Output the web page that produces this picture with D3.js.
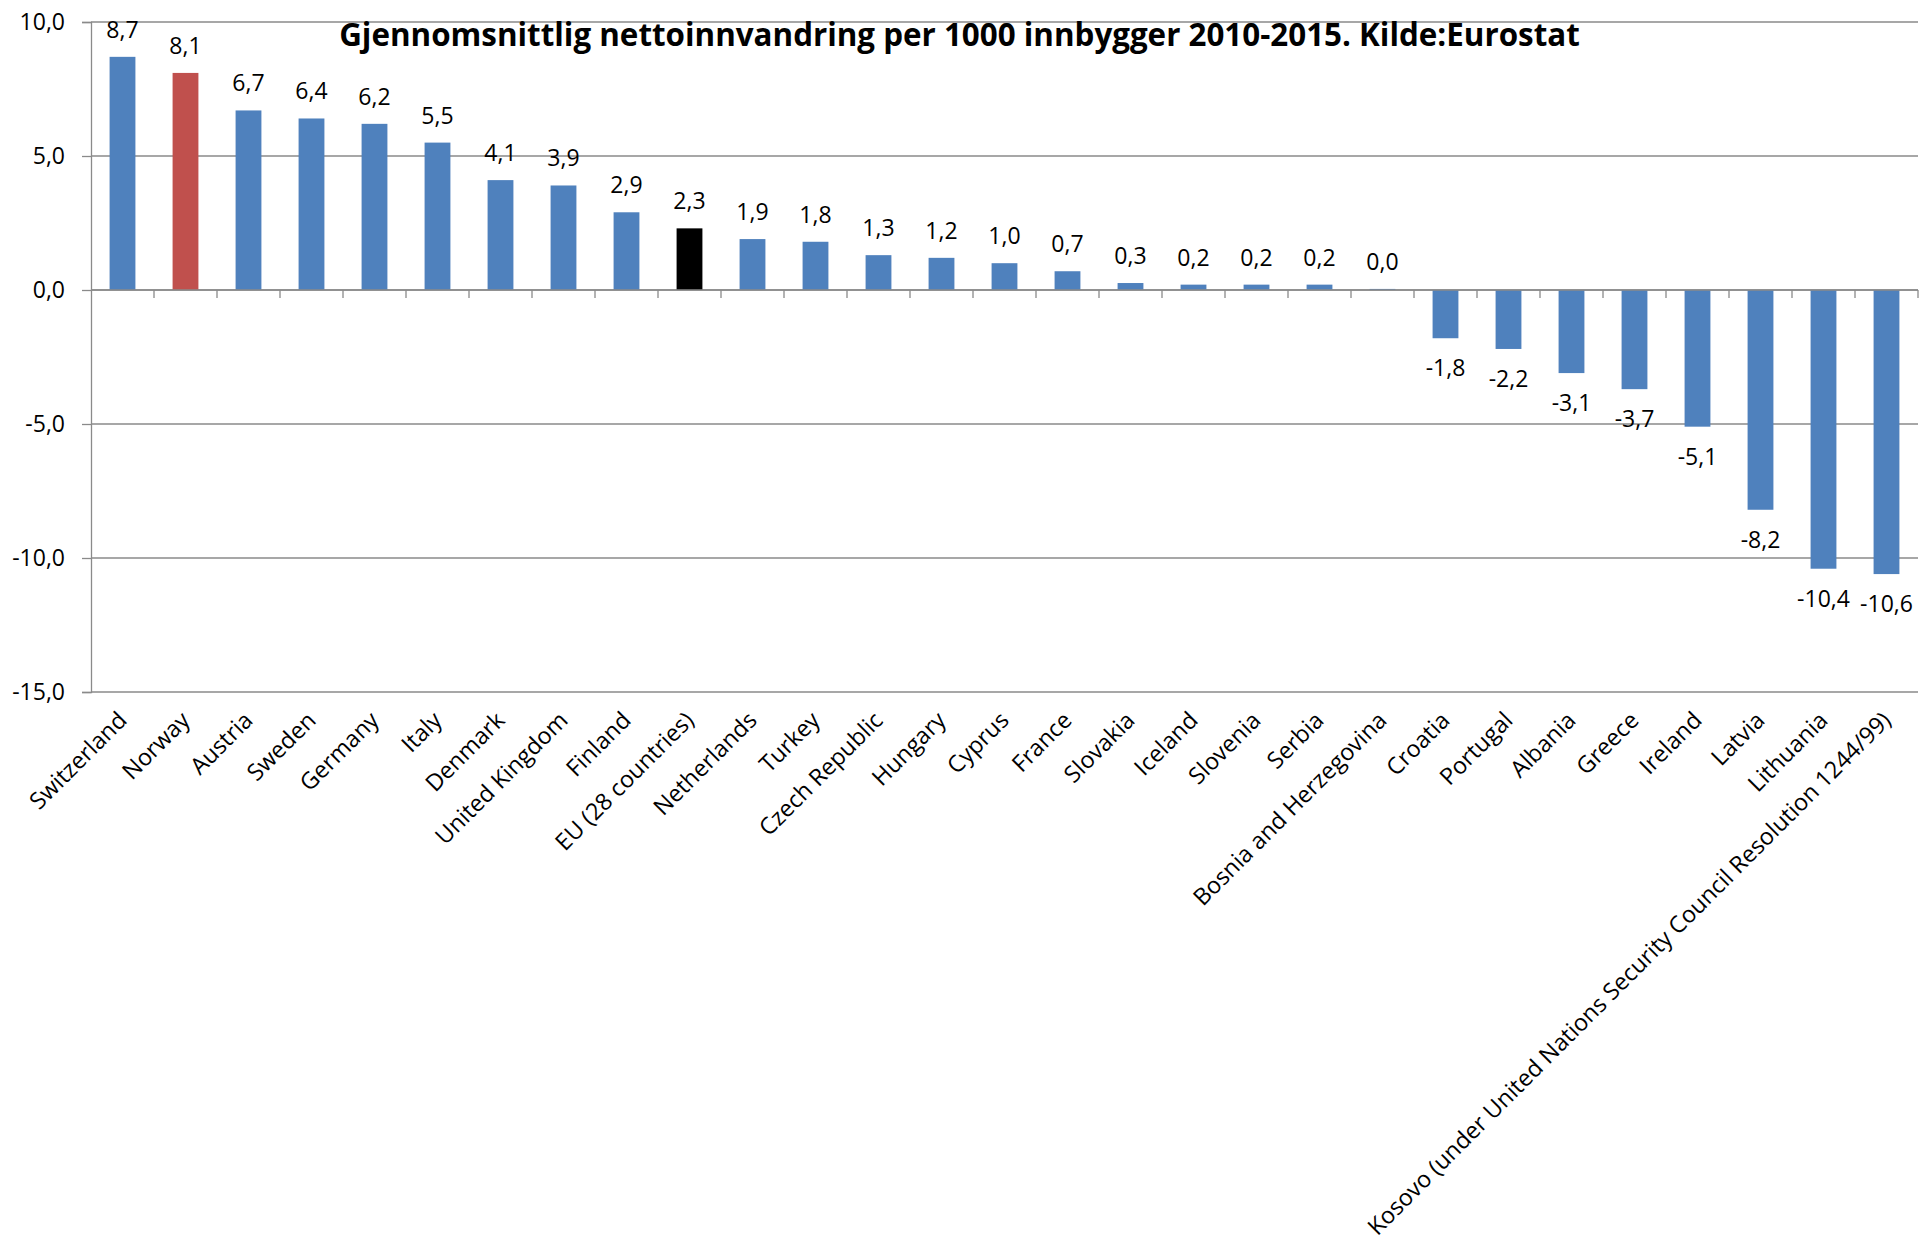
<!DOCTYPE html>
<html>
<head>
<meta charset="utf-8">
<script src="https://cdn.jsdelivr.net/npm/d3@7"></script>
<style>
  html, body { margin: 0; padding: 0; background: #fff; }
  svg { display: block; }
  text { font-family: "Open Sans", "DejaVu Sans", sans-serif; fill: #000; }
</style>
</head>
<body>
<svg id="chart" width="1920" height="1259"></svg>
<script>
const title = "Gjennomsnittlig nettoinnvandring per 1000 innbygger 2010-2015. Kilde:Eurostat";
const categories = ["Switzerland","Norway","Austria","Sweden","Germany","Italy","Denmark","United Kingdom","Finland","EU (28 countries)","Netherlands","Turkey","Czech Republic","Hungary","Cyprus","France","Slovakia","Iceland","Slovenia","Serbia","Bosnia and Herzegovina","Croatia","Portugal","Albania","Greece","Ireland","Latvia","Lithuania","Kosovo (under United Nations Security Council Resolution 1244/99)"];
const values = [8.7,8.1,6.7,6.4,6.2,5.5,4.1,3.9,2.9,2.3,1.9,1.8,1.3,1.2,1.0,0.7,0.26,0.2,0.2,0.2,0.04,-1.8,-2.2,-3.1,-3.7,-5.1,-8.2,-10.4,-10.6];
const highlight = {"Norway": "#C0504D", "EU (28 countries)": "#000000"};
const defaultColor = "#4F81BD";
const yTicks = [10, 5, 0, -5, -10, -15];

const svg = d3.select("#chart");
const plotLeft = 91, plotRight = 1918, plotTop = 22, plotBottom = 692;

const x = d3.scaleBand().domain(categories).range([plotLeft, plotRight]).paddingInner(0.59).paddingOuter(0.295);
const y = d3.scaleLinear().domain([-15, 10]).range([plotBottom, plotTop]);
const locale = d3.formatLocale({decimal: ",", thousands: " ", grouping: [3], currency: ["", ""], minus: "-"});
const fmt = locale.format(".1f");
const gridColor = "#8a8a8a";

// gridlines
svg.append("g").selectAll("line").data(yTicks).join("line")
  .attr("x1", plotLeft).attr("x2", plotRight)
  .attr("y1", d => y(d)).attr("y2", d => y(d))
  .attr("stroke", gridColor).attr("stroke-width", 1.3);

// y axis
const yAxis = d3.axisLeft(y).tickValues(yTicks).tickSize(9).tickPadding(17).tickFormat(fmt);
const gy = svg.append("g").attr("transform", `translate(${plotLeft},0)`).call(yAxis);
gy.select(".domain").attr("stroke", gridColor).attr("stroke-width", 1.3);
gy.selectAll(".tick line").attr("stroke", gridColor).attr("stroke-width", 1.3);
gy.selectAll(".tick text").style("font-size", "23px").style("font-family", "'Open Sans', sans-serif").attr("fill", "#000");

// bars
svg.append("g").selectAll("rect").data(categories).join("rect")
  .attr("x", d => x(d))
  .attr("width", x.bandwidth())
  .attr("y", (d, i) => y(Math.max(0, values[i])))
  .attr("height", (d, i) => Math.abs(y(values[i]) - y(0)))
  .attr("fill", d => highlight[d] || defaultColor);

// x axis (zero line with category boundary ticks)
const step = x.step();
const boundaries = d3.range(1, categories.length + 1).map(k => plotLeft + k * step);
svg.append("line").attr("x1", plotLeft).attr("x2", plotRight).attr("y1", y(0)).attr("y2", y(0))
  .attr("stroke", gridColor).attr("stroke-width", 1.3);
svg.append("g").selectAll("line").data(boundaries).join("line")
  .attr("x1", d => d).attr("x2", d => d)
  .attr("y1", y(0)).attr("y2", y(0) + 8)
  .attr("stroke", gridColor).attr("stroke-width", 1.3);

// value labels
svg.append("g").selectAll("text").data(categories).join("text")
  .attr("x", d => x(d) + x.bandwidth() / 2)
  .attr("y", (d, i) => values[i] >= 0 ? y(values[i]) - 19 : y(values[i]) + 38)
  .attr("text-anchor", "middle")
  .style("font-size", "23px")
  .text((d, i) => fmt(values[i]));

// category labels
svg.append("g").selectAll("text").data(categories).join("text")
  .attr("transform", d => `translate(${x(d) + x.bandwidth() / 2},716) rotate(-45)`)
  .attr("text-anchor", "end")
  .attr("dy", "0.35em")
  .style("font-size", "23.3px")
  .text(d => d);

// title
const t = svg.append("text")
  .attr("x", 959.5).attr("y", 46)
  .attr("text-anchor", "middle")
  .style("font-size", "28px").style("font-weight", "bold")
  .text(title);
const w = t.node().getComputedTextLength();
t.style("font-size", (28 * 1241 / w).toFixed(2) + "px");
</script>
</body>
</html>
